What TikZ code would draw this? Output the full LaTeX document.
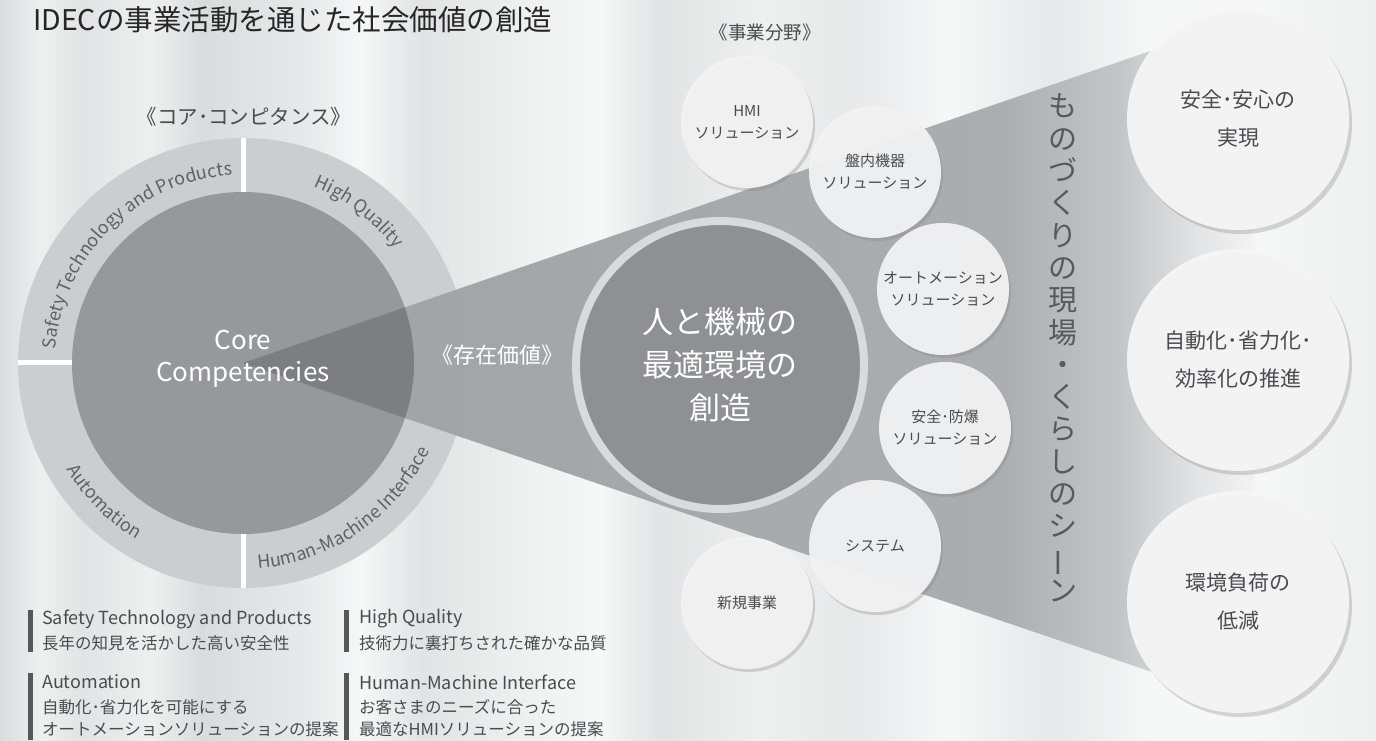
\documentclass[tikz,border=0pt]{standalone}
\usepackage{fontspec}
\setmainfont{Noto Sans CJK JP}
\usetikzlibrary{shadows,decorations.text}

\definecolor{curA}{HTML}{D9DCDD}
\definecolor{curB}{HTML}{EEF0F0}
\definecolor{curC}{HTML}{E1E3E4}
\definecolor{curD}{HTML}{F6F7F7}
\definecolor{curE}{HTML}{E6E8E9}
\definecolor{ringgray}{HTML}{CBCED0}
\definecolor{coregray}{HTML}{96989B}
\definecolor{coredark}{HTML}{7C7E81}
\definecolor{wedgeA}{HTML}{9FA2A5}
\definecolor{wedgeB}{HTML}{ABAEB1}
\definecolor{wedgeC}{HTML}{C3C6C8}
\definecolor{wedgeD}{HTML}{E3E5E6}
\definecolor{wedgeE}{HTML}{F2F3F3}
\definecolor{valuering}{HTML}{D9DADB}
\definecolor{valuefill}{HTML}{8E9093}
\definecolor{fieldfill}{HTML}{F3F3F4}
\definecolor{scenefill}{HTML}{F6F6F7}
\definecolor{txtgray}{HTML}{4A4B4D}
\definecolor{scenetxt}{HTML}{58595B}
\definecolor{ringtxt}{HTML}{5F6163}
\definecolor{bargray}{HTML}{555759}

\pgfdeclarehorizontalshading{curtain}{100bp}{color(0bp)=(curA); color(25bp)=(curA);
  color(26.5bp)=(curB); color(28bp)=(curC); color(30.5bp)=(curB); color(32.3bp)=(curA);
  color(35.9bp)=(curE); color(38.1bp)=(curD); color(40.3bp)=(curC); color(43.9bp)=(curB);
  color(46.8bp)=(curD); color(49bp)=(curC); color(52.6bp)=(curB); color(55.9bp)=(curE);
  color(59.5bp)=(curD); color(63.2bp)=(curE); color(66.8bp)=(curD); color(70.4bp)=(curD);
  color(75bp)=(curB); color(100bp)=(curB)}
\pgfdeclarehorizontalshading{wedgefade}{100bp}{color(0bp)=(wedgeA); color(25bp)=(wedgeA);
  color(62.4bp)=(wedgeB); color(68.3bp)=(wedgeC); color(72.3bp)=(wedgeD);
  color(75bp)=(wedgeE); color(100bp)=(wedgeE)}

\newcommand\ringfont{\fontsize{18}{18}\selectfont\color{ringtxt}}

\begin{document}
\begin{tikzpicture}
      [x=1pt,y=1pt,
      field node/.style={circle,minimum size=132pt,inner sep=0pt,fill=fieldfill,
        fill opacity=0.94,text opacity=1,text=txtgray,align=center,
        font=\fontsize{15}{22}\selectfont,
        drop shadow={opacity=0.3,shadow xshift=2pt,shadow yshift=-3pt}},
      scene node/.style={circle,minimum size=222pt,inner sep=0pt,fill=scenefill,
        fill opacity=0.94,text opacity=1,text=txtgray,align=center,
        font=\fontsize{21}{38}\selectfont,
        drop shadow={opacity=0.3,shadow xshift=3pt,shadow yshift=-4pt}},
      value node/.style={circle,minimum size=288pt,inner sep=0pt,fill=valuefill,
        draw=valuering,line width=8pt,text=white,align=center,
        font=\fontsize{31}{43}\selectfont},
      head node/.style={text=txtgray,inner sep=0pt},
      legend head/.style={anchor=west,inner sep=0pt,text=txtgray,font=\fontsize{18}{18}\selectfont},
      legend text/.style={anchor=west,inner sep=0pt,text=txtgray,font=\fontsize{16.5}{22}\selectfont},
      legend bar/.style={fill=bargray},
      ring text/.style={decorate,decoration={text along path,text align=center,text={|\ringfont|#1}}}]
      \useasboundingbox (0,0) rectangle (1376,740);
      \shade[shading=curtain] (0,0) rectangle (1376,740);
      \coordinate (cc) at (243,377);

      \node[head node,anchor=west,font=\fontsize{28.5}{28.5}\selectfont,text=black!85] (title) at (33,720) {IDECの事業活動を通じた社会価値の創造};
      \node[head node,font=\fontsize{20.5}{20.5}\selectfont] (corelabel) at (244,623) {《コア･コンピタンス》};
      \node[head node,font=\fontsize{18.5}{18.5}\selectfont] (fieldlabel) at (765,708) {《事業分野》};

      \fill[ringgray] (cc) circle (225);
      \draw[white,line width=5pt] (243,152) -- (243,602);
      \draw[white,line width=5pt] (18,377) -- (468,377);
      \fill[coregray] (cc) circle (171);

      \shade[shading=wedgefade] (cc) -- (1255,725) -- (1255,33) -- cycle;
      \begin{scope}
        \clip (cc) -- (1255,725) -- (1255,33) -- cycle;
        \fill[coredark] (cc) circle (171);
      \end{scope}

      \path[ring text={Safety Technology and Products}] (cc) ++(185:188) arc[start angle=185,end angle=84,radius=188];
      \path[ring text={High Quality}] (cc) ++(80:190) arc[start angle=80,end angle=25,radius=190];
      \path[ring text={Human-Machine Interface}] (cc) ++(260:206) arc[start angle=260,end angle=349,radius=206];
      \path[ring text={Automation}] (cc) ++(195:206) arc[start angle=195,end angle=255,radius=206];

      \node[text=white,align=center,font=\fontsize{26}{32}\selectfont] (core) at (243,381) {Core\\Competencies};
      \node[text=white,font=\fontsize{22}{22}\selectfont] (exist) at (497,385) {《存在価値》};

      \node[value node] (value) at (720,375) {人と機械の\\最適環境の\\創造};

      \node[field node] (hmi) at (747,618) {HMI\\ソリューション};
      \node[field node] (panel) at (875,568) {盤内機器\\ソリューション};
      \node[field node] (auto) at (943,451) {オートメーション\\ソリューション};
      \node[field node] (safety) at (945,312) {安全･防爆\\ソリューション};
      \node[field node] (system) at (875,194) {システム};
      \node[field node] (newbiz) at (747,137) {新規事業};

      \node[text=scenetxt,align=center,font=\fontsize{29}{32.3}\selectfont] (scene) at (1063,392)
        {も\\の\\づ\\く\\り\\の\\現\\場\\・\\く\\ら\\し\\の\\シ\\\rotatebox[origin=c]{90}{ー}\\ン};

      \node[scene node] (secure) at (1238,621) {安全･安心の\\実現};
      \node[scene node] (saving) at (1238,380) {自動化･省力化･\\効率化の推進};
      \node[scene node] (ecology) at (1238,138) {環境負荷の\\低減};

      \fill[legend bar] (28,88) rectangle (33,130);
      \node[legend head] (lg1) at (42,121) {Safety Technology and Products};
      \node[legend text] (lg1t) at (42,97) {長年の知見を活かした高い安全性};
      \fill[legend bar] (344,88) rectangle (349,130);
      \node[legend head] (lg2) at (359,121) {High Quality};
      \node[legend text] (lg2t) at (359,97) {技術力に裏打ちされた確かな品質};
      \fill[legend bar] (28,0) rectangle (33,67);
      \node[legend head] (lg3) at (42,58) {Automation};
      \node[legend text] (lg3t) at (42,33) {自動化･省力化を可能にする};
      \node[legend text] (lg3u) at (42,11) {オートメーションソリューションの提案};
      \fill[legend bar] (344,0) rectangle (349,67);
      \node[legend head] (lg4) at (359,58) {Human-Machine Interface};
      \node[legend text] (lg4t) at (359,33) {お客さまのニーズに合った};
      \node[legend text] (lg4u) at (359,11) {最適なHMIソリューションの提案};
    \end{tikzpicture}
\end{document}
